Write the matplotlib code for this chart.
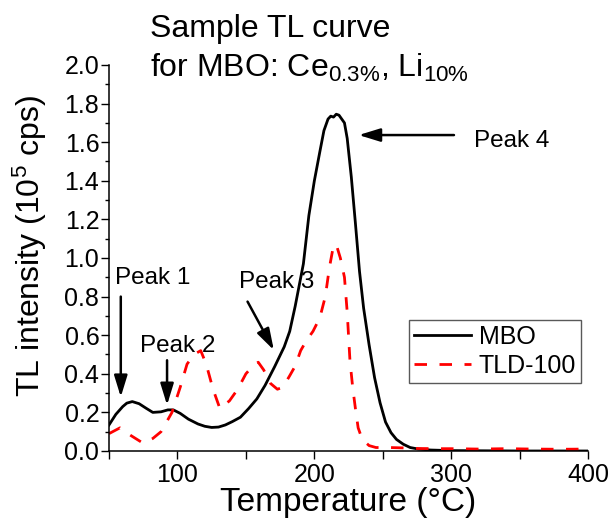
import matplotlib
matplotlib.use('Agg')
import matplotlib.pyplot as plt
from matplotlib.ticker import MultipleLocator

plt.rcParams['font.family'] = ['Liberation Sans', 'DejaVu Sans']
plt.rcParams['mathtext.fontset'] = 'custom'
plt.rcParams['mathtext.rm'] = 'Liberation Sans'
plt.rcParams['mathtext.it'] = 'Liberation Sans:italic'

# MBO: Ce 0.3%, Li 10% glow curve (10^5 cps)
mbo_temp = [50, 55, 60, 63, 67, 72, 77, 82, 88, 93, 97, 102, 108, 115, 120, 125, 130, 135, 140,
            146, 152, 158, 164, 171, 178, 182, 186, 192, 196, 200, 204, 207, 210, 212, 214, 216,
            218, 220, 222, 224, 227, 230, 233, 236, 240, 244, 248, 252, 256, 260, 265, 270, 276,
            285, 300, 350, 400]
mbo_val = [0.135, 0.19, 0.23, 0.248, 0.256, 0.245, 0.222, 0.2, 0.203, 0.213, 0.213, 0.195, 0.165,
           0.14, 0.128, 0.122, 0.124, 0.135, 0.152, 0.175, 0.22, 0.27, 0.34, 0.437, 0.54, 0.62,
           0.75, 0.97, 1.22, 1.40, 1.55, 1.66, 1.72, 1.735, 1.73, 1.745, 1.74, 1.72, 1.70, 1.62,
           1.42, 1.18, 0.93, 0.74, 0.55, 0.38, 0.25, 0.15, 0.095, 0.06, 0.035, 0.018, 0.01, 0.005,
           0.002, 0.0, 0.0]

# TLD-100 reference
tld_temp = [50, 58, 66, 75, 82, 88, 96, 102, 107, 112, 117, 121, 126, 131, 138, 144, 150, 155,
            159, 163, 168, 173, 177, 182, 186, 190, 194, 199, 204, 208, 211, 214, 216, 219, 222,
            224, 226, 228, 230, 232, 235, 240, 245, 255, 265, 275, 290, 300, 320, 340, 360, 380, 400]
tld_val = [0.09, 0.12, 0.08, 0.04, 0.065, 0.10, 0.20, 0.33, 0.45, 0.50, 0.52, 0.45, 0.32, 0.22,
           0.26, 0.32, 0.40, 0.44, 0.46, 0.42, 0.35, 0.32, 0.33, 0.39, 0.44, 0.52, 0.57, 0.62,
           0.69, 0.80, 0.95, 1.065, 1.07, 1.00, 0.90, 0.72, 0.47, 0.33, 0.22, 0.12, 0.06, 0.028,
           0.018, 0.018, 0.016, 0.013, 0.012, 0.012, 0.01, 0.012, 0.01, 0.009, 0.01]

peak_labels = ['Peak 1', 'Peak 2', 'Peak 3', 'Peak 4']
label_pos = [(54.4, 0.865), (72.3, 0.514), (145.1, 0.843), (316.5, 1.575)]
arrow_tail = [(58.6, 0.80), (92.4, 0.47), (151.2, 0.774), (302.0, 1.637)]
arrow_head = [(58.6, 0.28), (92.4, 0.238), (170.4, 0.523), (232.4, 1.637)]

fig = plt.figure(figsize=(6.08, 5.2), dpi=100)
ax = fig.add_axes([0.1793, 0.1327, 0.788, 0.7423])

ax.plot(mbo_temp, mbo_val, color='black', lw=2.0, label='MBO')
ax.plot(tld_temp, tld_val, color='red', lw=2.0, linestyle=(0, (4.5, 4.5)), label='TLD-100')

for lab, pos, tail, head in zip(peak_labels, label_pos, arrow_tail, arrow_head):
    ax.text(pos[0], pos[1], lab, fontsize=17.5, ha='left', va='baseline')
    ax.annotate('', xy=head, xytext=tail,
                arrowprops=dict(arrowstyle='-|>,head_length=1.3,head_width=0.4', color='black',
                                lw=1.8, shrinkA=0, shrinkB=0, mutation_scale=10))

ax.set_xlim(50, 400)
ax.set_ylim(0, 2.0)
ax.xaxis.set_major_locator(MultipleLocator(100))
ax.xaxis.set_minor_locator(MultipleLocator(50))
ax.yaxis.set_major_locator(MultipleLocator(0.2))
ax.yaxis.set_minor_locator(MultipleLocator(0.1))
ax.yaxis.set_major_formatter(lambda v, p: f'{v:.1f}')

for s in ['top', 'right']:
    ax.spines[s].set_visible(False)
for s in ['left', 'bottom']:
    ax.spines[s].set_linewidth(1.1)

ax.tick_params(axis='both', which='major', direction='out', length=6, width=1, labelsize=18)
ax.tick_params(axis='y', which='minor', direction='out', length=3, width=1)
ax.tick_params(axis='x', which='minor', direction='out', length=6, width=1)
ax.tick_params(axis='y', which='major', pad=1)
ax.tick_params(axis='x', which='major', pad=3)

ax.set_xlabel('Temperature (°C)', fontsize=24, labelpad=0)
ax.set_ylabel('TL intensity (10$^{5}$ cps)', fontsize=23)
ax.yaxis.set_label_coords(-0.125, 0.531)

leg = ax.legend(loc='upper right', bbox_to_anchor=(0.985, 0.339), fontsize=18, frameon=True,
                fancybox=False, framealpha=1, edgecolor='0.35', borderpad=0.2,
                labelspacing=0.2, handlelength=2.3, handletextpad=0.3, borderaxespad=0)
leg.get_frame().set_linewidth(1.0)

fig.text(0.247, 0.9294, 'Sample TL curve', fontsize=23, ha='left', va='baseline')
fig.text(0.247, 0.8525, r'for MBO: Ce$_{\mathrm{0.3\%}}$, Li$_{\mathrm{10\%}}$', fontsize=23,
         ha='left', va='baseline')

fig.savefig('out.png', dpi=100)
